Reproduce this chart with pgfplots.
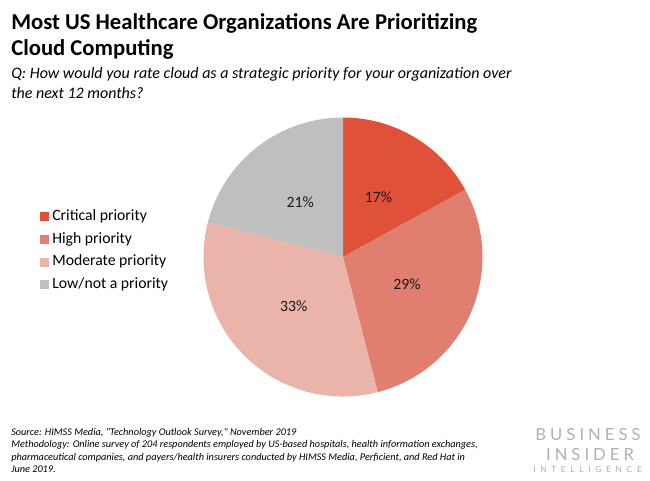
\documentclass[border=0pt]{standalone}
\usepackage{pgfplots}
\pgfplotsset{compat=1.18}
\usepackage{pgfplotstable}
\usepackage{fontspec}
\setmainfont{Carlito}
\newfontfamily\logofont[LetterSpace=24]{Lato}
\newfontfamily\logofontsmall[LetterSpace=55]{Lato}

\definecolor{crit}{HTML}{E0513A}
\definecolor{high}{HTML}{E07F70}
\definecolor{moder}{HTML}{EBB4AA}
\definecolor{low}{HTML}{BFBFBF}
\definecolor{logogray}{HTML}{B0B0B0}

\pgfplotstableread{
label value color
Critical 17 crit
High 29 high
Moderate 33 moder
Low 21 low
}\piedata
\pgfplotstablecreatecol[create col/expr accum={\pgfmathaccuma+\thisrow{value}}{0}]{cum}\piedata

\begin{document}
\begin{tikzpicture}
\begin{scope}[x=0.75pt,y=-0.75pt]
\useasboundingbox (0,0) rectangle (650,481);
% title
\node[anchor=base west, inner sep=0pt, font=\bfseries\fontsize{17}{20}\selectfont] at (11,29.5) {Most US Healthcare Organizations Are Prioritizing};
\node[anchor=base west, inner sep=0pt, font=\bfseries\fontsize{17}{20}\selectfont] at (11,55.5) {Cloud Computing};
\node[anchor=base west, inner sep=0pt, font=\itshape\fontsize{12}{14}\selectfont] at (11,79) {Q: How would you rate cloud as a strategic priority for your organization over};
\node[anchor=base west, inner sep=0pt, font=\itshape\fontsize{12}{14}\selectfont] at (11,99) {the next 12 months?};
% footer
\node[anchor=base west, inner sep=0pt, font=\itshape\fontsize{7.7}{9}\selectfont] at (11,435) {Source: HIMSS Media, \textquotedbl Technology Outlook Survey,\textquotedbl{} November 2019};
\node[anchor=base west, inner sep=0pt, font=\itshape\fontsize{7.7}{9}\selectfont] at (11,447.5) {Methodology: Online survey of 204 respondents employed by US-based hospitals, health information exchanges,};
\node[anchor=base west, inner sep=0pt, font=\itshape\fontsize{7.7}{9}\selectfont] at (11,460) {pharmaceutical companies, and payers/health insurers conducted by HIMSS Media, Perficient, and Red Hat in};
\node[anchor=base west, inner sep=0pt, font=\itshape\fontsize{7.7}{9}\selectfont] at (11,472.5) {June 2019.};
% logo
\node[anchor=base, inner sep=0pt, text=logogray, font=\logofont\fontsize{12.5}{14}\selectfont] at (588,440) {BUSINESS};
\node[anchor=base, inner sep=0pt, text=logogray, font=\logofont\fontsize{12.5}{14}\selectfont] at (590,460.5) {INSIDER};
\node[anchor=base, inner sep=0pt, text=logogray, font=\logofontsmall\fontsize{6.3}{8}\selectfont] at (587.5,472.5) {INTELLIGENCE};
\end{scope}

\begin{axis}[
  at={(257.25pt,-192.75pt)}, anchor=center,
  width=209.25pt, height=209.25pt, scale only axis,
  xmin=-1, xmax=1, ymin=-1, ymax=1,
  hide axis, clip=false,
  legend image code/.code={\fill[#1] (0pt,-3.375pt) rectangle (6.75pt,3.375pt);},
  legend style={at={(axis description cs:-0.586,0.522)}, anchor=west,
    draw=none, fill=none, inner sep=0pt, outer sep=0pt,
    row sep=5.5pt, column sep=2.5pt,
    font=\fontsize{11.8}{14}\selectfont,
    nodes={inner sep=0pt, text height=8.5pt, text depth=3pt}},
  legend cell align=left,
]
\pgfplotsinvokeforeach{0,...,3}{
  \pgfplotstablegetelem{#1}{value}\of\piedata \let\pv\pgfplotsretval
  \pgfplotstablegetelem{#1}{cum}\of\piedata \let\pc\pgfplotsretval
  \pgfplotstablegetelem{#1}{color}\of\piedata \let\pcol\pgfplotsretval
  \pgfmathsetmacro\aend{90-3.6*\pc}
  \pgfmathsetmacro\astart{\aend+3.6*\pv}
  \pgfmathsetmacro\amid{(\astart+\aend)/2}
  \edef\temp{%
    \noexpand\fill[\pcol] (axis cs:0,0) -- ++(\astart:104.625pt) arc[start angle=\astart, end angle=\aend, radius=104.625pt] -- cycle;
    \noexpand\path (axis cs:0,0) ++(\amid:52.3pt) node[font=\noexpand\fontsize{11.8}{14}\noexpand\selectfont, text=black!90] {\pv\noexpand\%};
  }\temp
}
\addlegendimage{fill=crit, draw=none}
\addlegendentry{Critical priority}
\addlegendimage{fill=high, draw=none}
\addlegendentry{High priority}
\addlegendimage{fill=moder, draw=none}
\addlegendentry{Moderate priority}
\addlegendimage{fill=low, draw=none}
\addlegendentry{Low/not a priority}
\end{axis}
\end{tikzpicture}
\end{document}
